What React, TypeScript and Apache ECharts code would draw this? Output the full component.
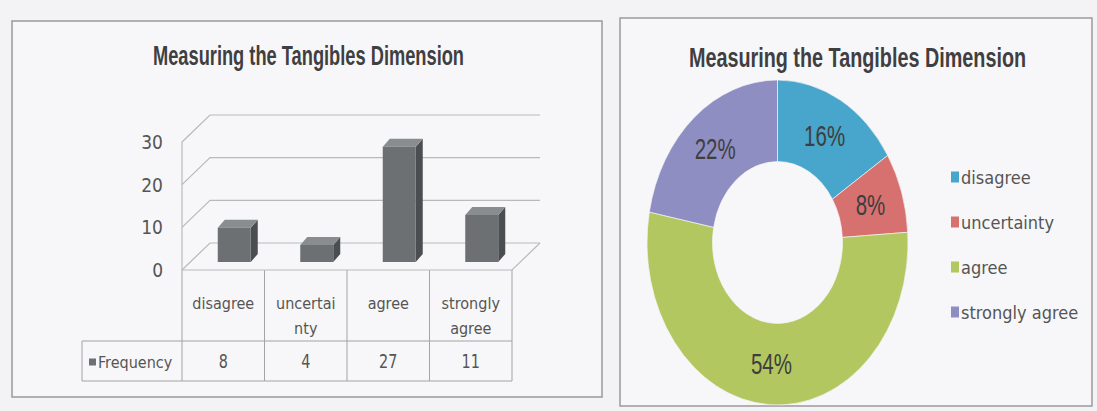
import React, { useEffect, useRef } from "react";
import * as echarts from "echarts";

// ---------- data ----------
const chartTitle = "Measuring the Tangibles Dimension";
const seriesName = "Frequency";
const categories = ["disagree", "uncertainty", "agree", "strongly agree"];
const frequency = [8, 4, 27, 11];
const barTickLabels = ["disagree", "uncertai\nnty", "agree", "strongly\nagree"];
const yTicks = [0, 10, 20, 30];
const donutColors = ["#48a5cb", "#d7716f", "#b2c75f", "#8e8ec2"];

// ---------- layout / style ----------
const FONT = "'Liberation Sans Narrow', 'DejaVu Sans Condensed', 'Arial Narrow', sans-serif";
const ARIAL = "'Liberation Sans', Arial, sans-serif";
const TXT = "#555555";
const G = { left: 182, top: 142, width: 330, height: 128 };
const WALL = { dx: 28, dy: 27 };
const BAR = { dx: 7, dy: 8, ox: 11, oy: 8, ratio: 0.4 };
const TABLE = { left: 82, mid: 341, bottom: 381 };
const DONUT = { cx: 777.5, cy: 242.5, r: 130.5, r0: 65, sy: 162.5 / 130.5 };

const total = frequency.reduce((a, b) => a + b, 0);
const cumStart = frequency.map((_, i) => frequency.slice(0, i).reduce((a, b) => a + b, 0));

export default function App() {
  const ref = useRef<HTMLDivElement>(null);

  useEffect(() => {
    if (!ref.current) return;
    const chart = echarts.init(ref.current, null, { renderer: "svg" });

    const wallSeries: any = {
      type: "custom",
      name: "wall",
      coordinateSystem: "cartesian2d",
      xAxisIndex: 0,
      yAxisIndex: 0,
      clip: false,
      silent: true,
      z: 1,
      data: yTicks.map((v) => [0, v]),
      encode: { x: 0, y: 1 },
      renderItem: (params: any, api: any) => {
        const cs = params.coordSys;
        const xL = cs.x;
        const xR = cs.x + cs.width;
        const v = api.value(1);
        const y = api.coord([0, v])[1];
        const y0 = cs.y + cs.height;
        const ls = { stroke: "#b9b9bb", lineWidth: 1.2, fill: null };
        const children: any[] = [
          {
            type: "polyline",
            shape: { points: [[xL, y], [xL + WALL.dx, y - WALL.dy], [xR + WALL.dx, y - WALL.dy]] },
            style: ls,
          },
        ];
        if (v === 0) {
          children.push({
            type: "polyline",
            shape: { points: [[xL, y], [xR, y], [xR + WALL.dx, y - WALL.dy]] },
            style: ls,
          });
        }
        if (v === yTicks[yTicks.length - 1]) {
          children.push({ type: "line", shape: { x1: xL, y1: y, x2: xL, y2: y0 }, style: ls });
        }
        return { type: "group", children };
      },
    };

    const barSeries: any = {
      type: "custom",
      name: seriesName,
      coordinateSystem: "cartesian2d",
      xAxisIndex: 0,
      yAxisIndex: 0,
      clip: false,
      z: 3,
      itemStyle: { color: "#6d7072" },
      data: frequency.map((v, i) => [i, v]),
      encode: { x: 0, y: 1 },
      renderItem: (params: any, api: any) => {
        const i = api.value(0);
        const v = api.value(1);
        const top = api.coord([i, v]);
        const base = api.coord([i, 0]);
        const cw = api.size([1, 0])[0];
        const w = cw * BAR.ratio;
        const cx = top[0] + BAR.ox;
        const L = cx - w / 2;
        const R = cx + w / 2;
        const T = top[1] - BAR.oy;
        const B = base[1] - BAR.oy;
        const d = BAR.dx;
        const e = BAR.dy;
        return {
          type: "group",
          children: [
            {
              type: "polygon",
              shape: { points: [[R, T], [R + d, T - e], [R + d, B - e], [R, B]] },
              style: { fill: "#4b4e50" },
            },
            {
              type: "polygon",
              shape: { points: [[L, T], [R, T], [R + d, T - e], [L + d, T - e]] },
              style: { fill: "#8a8d8f" },
            },
            { type: "rect", shape: { x: L, y: T, width: w, height: B - T }, style: { fill: "#6d7072" } },
            {
              type: "text",
              x: top[0],
              y: (TABLE.mid + TABLE.bottom) / 2,
              scaleY: 1.2,
              style: {
                text: String(v),
                fill: TXT,
                fontSize: 16,
                fontFamily: FONT,
                align: "center",
                verticalAlign: "middle",
                textAlign: "center",
                textVerticalAlign: "middle",
              },
            },
          ],
        };
      },
    };

    const donutSeries: any[] = categories.map((name, idx) => ({
      type: "custom",
      name,
      coordinateSystem: "none",
      clip: false,
      z: 3,
      itemStyle: { color: donutColors[idx] },
      data: [[frequency[idx], cumStart[idx]]],
      renderItem: (params: any, api: any) => {
        const v = api.value(0);
        const c = api.value(1);
        const a0 = -Math.PI / 2 + (c / total) * Math.PI * 2;
        const a1 = a0 + (v / total) * Math.PI * 2;
        const am = (a0 + a1) / 2;
        const rm = (DONUT.r + DONUT.r0) / 2;
        return {
          type: "group",
          children: [
            {
              type: "sector",
              x: DONUT.cx,
              y: DONUT.cy,
              scaleY: DONUT.sy,
              shape: { cx: 0, cy: 0, r: DONUT.r, r0: DONUT.r0, startAngle: a0, endAngle: a1, clockwise: true },
              style: { fill: api.visual("color"), stroke: "#f4f4f6", lineWidth: 0.6 },
            },
            {
              type: "text",
              x: DONUT.cx + rm * Math.cos(am),
              y: DONUT.cy + rm * Math.sin(am) * DONUT.sy,
              scaleX: 0.89,
              scaleY: 1.25,
              style: {
                text: Math.round((v / total) * 100) + "%",
                fill: "#3e3e40",
                fontSize: 23,
                fontFamily: ARIAL,
                align: "center",
                verticalAlign: "middle",
                textAlign: "center",
                textVerticalAlign: "middle",
              },
            },
          ],
        };
      },
    }));

    const cw = G.width / categories.length;
    const tableLines: any[] = [];
    for (let i = 0; i <= categories.length; i++) {
      const x = G.left + i * cw;
      tableLines.push({
        type: "line",
        shape: { x1: x, y1: G.top + G.height, x2: x, y2: TABLE.bottom },
        style: { stroke: "#a3a3a5", lineWidth: 1 },
      });
    }
    [TABLE.mid, TABLE.bottom].forEach((y) =>
      tableLines.push({
        type: "line",
        shape: { x1: TABLE.left, y1: y, x2: G.left + G.width, y2: y },
        style: { stroke: "#a3a3a5", lineWidth: 1 },
      })
    );
    tableLines.push({
      type: "line",
      shape: { x1: TABLE.left, y1: TABLE.mid, x2: TABLE.left, y2: TABLE.bottom },
      style: { stroke: "#a3a3a5", lineWidth: 1 },
    });

    const titleText = (x: number, y: number, sx: number) => ({
      type: "text",
      x,
      y,
      scaleX: sx,
      scaleY: 1.27,
      z: 10,
      style: {
        text: chartTitle,
        fill: "#3f3f41",
        fontSize: 22,
        fontWeight: "bold",
        fontFamily: ARIAL,
        align: "center",
        verticalAlign: "middle",
        textAlign: "center",
        textVerticalAlign: "middle",
      },
    });

    const option: any = {
      animation: false,
      backgroundColor: "#f3f3f5",
      legend: [
        {
          data: [seriesName],
          left: TABLE.left + 2,
          top: 349,
          itemWidth: 7,
          itemHeight: 7,
          icon: "rect",
          selectedMode: false,
          textStyle: { fontFamily: FONT, fontSize: 16, color: TXT, padding: [0, 0, 0, -3] },
        },
        {
          data: categories,
          orient: "vertical",
          left: 946,
          top: 162,
          itemWidth: 8,
          itemHeight: 11,
          itemGap: 25,
          icon: "rect",
          selectedMode: false,
          textStyle: { fontFamily: FONT, fontSize: 18, color: TXT, lineHeight: 20, padding: [0, 0, 0, -3] },
        },
      ],
      grid: { left: G.left, top: G.top, width: G.width, height: G.height, containLabel: false },
      xAxis: {
        type: "category",
        data: categories,
        axisLine: { show: false },
        axisTick: { show: false },
        splitLine: { show: false },
        axisLabel: {
          interval: 0,
          margin: 21,
          fontFamily: FONT,
          fontSize: 16,
          lineHeight: 25,
          color: TXT,
          formatter: (_v: string, i: number) => barTickLabels[i],
        },
      },
      yAxis: {
        type: "value",
        min: 0,
        max: 30,
        interval: 10,
        axisLine: { show: false },
        axisTick: { show: false },
        splitLine: { show: false },
        axisLabel: { margin: 19, fontFamily: FONT, fontSize: 19, color: TXT },
      },
      graphic: [
        {
          type: "rect",
          z: -10,
          shape: { x: 12, y: 21, width: 590, height: 376 },
          style: { fill: "#f7f7f9", stroke: "#9b9b9d", lineWidth: 1.5 },
        },
        {
          type: "rect",
          z: -10,
          shape: { x: 620, y: 18, width: 472, height: 388 },
          style: { fill: "#f7f7f9", stroke: "#9b9b9d", lineWidth: 1.5 },
        },
        ...tableLines,
        titleText(308.5, 56, 0.83),
        titleText(857.5, 57, 0.9),
      ],
      series: [wallSeries, barSeries, ...donutSeries],
    };

    chart.setOption(option);
    return () => chart.dispose();
  }, []);

  return (
    <div
      ref={ref}
      style={{ position: "absolute", left: 0, top: 0, width: 1097, height: 411 }}
    />
  );
}
